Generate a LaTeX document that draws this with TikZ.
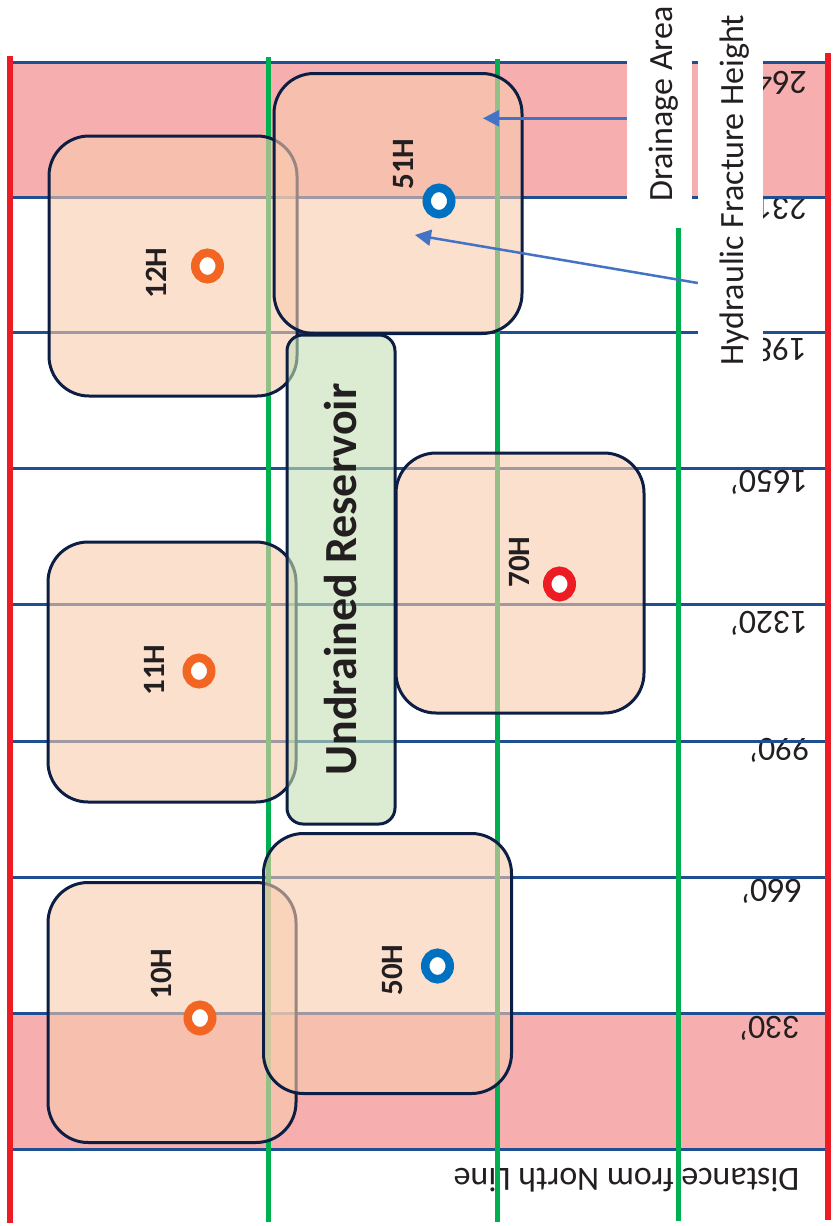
\documentclass[tikz,border=0pt]{standalone}
\usepackage{fontspec}
\setmainfont{Carlito}
\usetikzlibrary{arrows.meta,shapes.geometric}
\definecolor{redline}{RGB}{237,28,36}
\definecolor{gridblue}{RGB}{31,78,145}
\definecolor{greenline}{RGB}{0,176,80}
\definecolor{band}{RGB}{247,174,175}
\definecolor{navy}{RGB}{12,30,68}
\definecolor{peach}{RGB}{248,203,173}
\definecolor{lgreen}{RGB}{197,224,180}
\definecolor{wellorange}{RGB}{242,101,34}
\definecolor{wellblue}{RGB}{0,112,192}
\definecolor{wellred}{RGB}{237,28,36}
\definecolor{arrowblue}{RGB}{68,114,196}
\definecolor{ink}{RGB}{35,31,32}
\begin{document}
\begin{tikzpicture}[x=1pt,y=-1pt,
  bandfill/.style={fill=band},
  gridline/.style={draw=gridblue, line width=3pt},
  greenv/.style={draw=greenline, line width=5pt},
  redv/.style={draw=redline, line width=6pt},
  areabox/.style={draw=navy, line width=3pt, fill=peach, fill opacity=0.6,
    rounded corners=40pt, minimum width=248pt, minimum height=260pt, inner sep=0pt},
  resbox/.style={draw=navy, line width=3pt, fill=lgreen, fill opacity=0.6, text opacity=1,
    rounded corners=16pt, rotate=90, minimum width=489pt, minimum height=108pt, inner sep=0pt,
    font=\fontsize{46}{52}\selectfont\bfseries, text=ink},
  well/.style={draw=#1, line width=8.5pt, fill=white, ellipse,
    minimum width=24.5pt, minimum height=26.5pt, inner sep=0pt},
  wlabel/.style={rotate=90, font=\fontsize{31}{36}\selectfont\bfseries, text=ink, inner sep=0pt},
  dist/.style={rotate=180, font=\fontsize{34}{40}\selectfont, text=ink, inner sep=0pt},
  callout/.style={rotate=90, font=\fontsize{34}{40}\selectfont, text=ink, fill=white,
    inner sep=0pt, text height=45pt, text depth=20pt},
  arr/.style={draw=arrowblue, line width=2.5pt, -{Triangle[length=16pt,width=16pt]}}
]
\useasboundingbox (0,0) rectangle (833,1226);

% red bands
\fill[bandfill] (13,62) rectangle (825,197);
\fill[bandfill] (13,1013) rectangle (825,1149);

% distance labels (upside down)
\node[dist, anchor=west] (d2640) at (807,83.5) {2640’};
\node[dist, anchor=west] (d2310) at (807,209) {2310’};
\node[dist, anchor=west] (d1980) at (807,350) {1980’};
\node[dist, anchor=west] (d1650) at (808,482.5) {1650’};
\node[dist, anchor=west] (d1320) at (808,623) {1320’};
\node[dist, anchor=west] (d990) at (810,750) {990’};
\node[dist, anchor=west] (d660) at (802,891) {660’};
\node[dist, anchor=west] (d330) at (800,1028.5) {330’};
\node[dist] (axis) at (626.5,1180) {Distance from North Line};

% grid
\foreach \yy in {62,197,332,468,604,741,877,1013,1149}
  \draw[gridline] (10,\yy) -- (828,\yy);

% green lines
\draw[greenv] (268,57) -- (268,1222);
\draw[greenv] (497,59) -- (497,1222);
\draw[greenv] (678,228) -- (678,1221);

% red lines
\draw[redv] (10,56) -- (10,1223);
\draw[redv] (828,53) -- (828,1220);

% drainage areas
\node[areabox] (a12) at (173,266) {};
\node[areabox] (a11) at (172,672) {};
\node[areabox] (a10) at (172,1012.5) {};
\node[resbox] (res) at (341,579.5) {Undrained Reservoir};
\node[areabox] (a51) at (398,203.5) {};
\node[areabox] (a50) at (387.5,963.5) {};
\node[areabox] (a70) at (520,583) {};

% wells
\node[well=wellorange] (w12) at (207.5,266) {};
\node[well=wellorange] (w11) at (199,671) {};
\node[well=wellorange] (w10) at (200,1018) {};
\node[well=wellblue] (w51) at (439,201) {};
\node[well=wellblue] (w50) at (437.5,966) {};
\node[well=wellred] (w70) at (559.5,584) {};

\node[wlabel] (l12) at (156,273) {12H};
\node[wlabel] (l11) at (154.5,670) {11H};
\node[wlabel] (l10) at (161,974) {10H};
\node[wlabel] (l51) at (404,164) {51H};
\node[wlabel] (l50) at (392,970) {50H};
\node[wlabel] (l70) at (519,562) {70H};

% callouts
\node[callout, inner xsep=22pt] (drain) at (659.5,104) {Drainage Area};
\node[callout, inner xsep=15pt] (hyd) at (730.5,190) {Hydraulic Fracture Height};

\coordinate (dtip) at (483,118.3);
\coordinate (htip) at (415,235);
\coordinate (hfoot) at (0,283);
\draw[arr] (drain.north |- dtip) -- (dtip);
\draw[arr] (hyd.north |- hfoot) -- (htip);
\end{tikzpicture}
\end{document}
